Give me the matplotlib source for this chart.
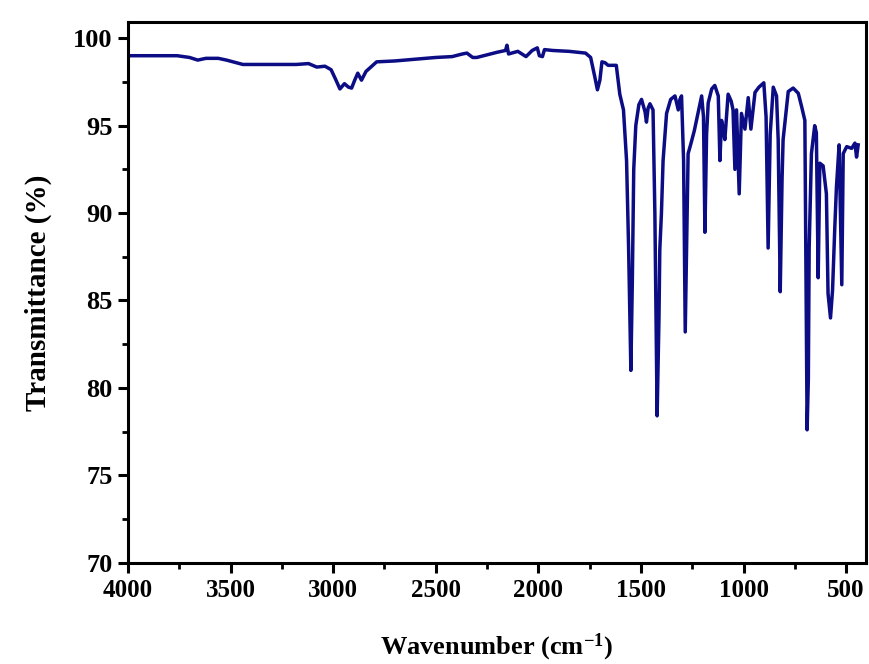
import numpy as np
import matplotlib
matplotlib.use("Agg")
import matplotlib.pyplot as plt
from matplotlib.ticker import MultipleLocator

# FTIR spectrum
wavenumber = [4000, 3900, 3760, 3700, 3660, 3620, 3560, 3520, 3440, 3300, 3180, 3120,
              3080, 3040, 3010, 2990, 2967, 2945, 2925, 2910, 2895, 2880, 2862, 2840,
              2788, 2700, 2600, 2500, 2420, 2370, 2348, 2320, 2300, 2250, 2200, 2160,
              2153, 2145, 2100, 2060, 2030, 2005, 1995, 1980, 1970, 1930, 1850, 1770,
              1745, 1725, 1712, 1700, 1690, 1675, 1660, 1620, 1603, 1585, 1570, 1560,
              1549, 1542, 1535, 1525, 1510, 1497, 1480, 1473, 1465, 1456, 1441, 1432,
              1421, 1412, 1408, 1400, 1392, 1375, 1355, 1334, 1318, 1310, 1302, 1292,
              1284, 1276, 1270, 1258, 1240, 1220, 1204, 1195, 1188, 1180, 1172, 1155, 1140,
              1123, 1115, 1107, 1099, 1091, 1075, 1060, 1051, 1042, 1034, 1021, 1010,
              993, 977, 964, 944, 925, 901, 890, 880, 870, 855, 839, 831,
              821, 812, 807, 782, 758, 733, 717, 701, 690, 684, 680, 669,
              653, 645, 636, 628, 612, 596, 588, 576, 566, 555, 547, 534,
              521, 514, 497, 473, 457, 449, 441]
transmittance = [99.0, 99.0, 99.0, 98.9, 98.75, 98.85, 98.85, 98.75, 98.5, 98.5, 98.5, 98.55,
                 98.35, 98.4, 98.2, 97.7, 97.1, 97.4, 97.2, 97.15, 97.6, 98.0, 97.6, 98.1,
                 98.65, 98.7, 98.8, 98.9, 98.95, 99.1, 99.15, 98.9, 98.9, 99.05, 99.2, 99.3,
                 99.6, 99.1, 99.25, 98.95, 99.3, 99.45, 99.0, 98.95, 99.35, 99.3, 99.25, 99.15,
                 98.9, 97.8, 97.05, 97.6, 98.65, 98.6, 98.45, 98.45, 96.8, 95.9, 93.0, 88.0,
                 81.0, 86.0, 92.5, 95.0, 96.2, 96.5, 95.8, 95.2, 96.0, 96.25, 95.9, 90.0,
                 78.4, 84.0, 87.9, 90.0, 93.0, 95.7, 96.5, 96.7, 95.9, 96.5, 96.7, 93.0,
                 83.2, 89.0, 93.4, 93.9, 94.7, 95.8, 96.7, 95.5, 88.9, 94.5, 96.3, 97.1, 97.3,
                 96.7, 93.0, 95.3, 94.8, 94.2, 96.8, 96.4, 95.9, 92.5, 95.9, 91.1, 95.7,
                 94.8, 96.6, 94.8, 96.9, 97.2, 97.45, 95.5, 88.0, 94.5, 97.2, 96.7, 94.2,
                 85.5, 92.0, 94.2, 96.95, 97.15, 96.85, 96.1, 95.3, 77.6, 80.5, 88.0, 93.4,
                 95.0, 94.6, 86.3, 92.85, 92.7, 91.1, 85.4, 84.0, 85.6, 89.2, 91.5, 93.9,
                 85.9, 93.4, 93.8, 93.7, 94.0, 93.2, 93.9]

x_ticks = [4000, 3500, 3000, 2500, 2000, 1500, 1000, 500]
y_ticks = [70, 75, 80, 85, 90, 95, 100]

plt.rcParams['font.family'] = ['Liberation Serif', 'DejaVu Serif']
plt.rcParams['font.weight'] = 'bold'
plt.rcParams['mathtext.fontset'] = 'custom'
plt.rcParams['mathtext.rm'] = 'Liberation Serif:bold'
plt.rcParams['mathtext.it'] = 'Liberation Serif:bold'
plt.rcParams['mathtext.bf'] = 'Liberation Serif:bold'

fig = plt.figure(figsize=(8.7, 6.64), dpi=100)
ax = fig.add_axes([0.1471, 0.1526, 0.8483, 0.8143])

ax.plot(wavenumber, transmittance, color='#0c0c84', lw=2.5, solid_joinstyle='round')

ax.set_xlim(4000, 403)
ax.set_ylim(70, 100.93)
ax.set_xticks(x_ticks)
ax.set_yticks(y_ticks)
ax.xaxis.set_minor_locator(MultipleLocator(250))
ax.yaxis.set_minor_locator(MultipleLocator(2.5))

for s in ax.spines.values():
    s.set_linewidth(2.2)
ax.tick_params(which='major', direction='out', length=7, width=2.2)
ax.tick_params(which='minor', direction='out', length=4, width=2)
ax.tick_params(axis='x', labelsize=18, pad=5)
ax.tick_params(axis='y', labelsize=19, pad=4)
for lab in ax.get_xticklabels() + ax.get_yticklabels():
    lab.set_fontweight('bold')

ax.set_xlabel('Wavenumber (cm$^{-1}$)', fontsize=19, fontweight='bold', labelpad=21)
ax.set_ylabel('Transmittance (%)', fontsize=21, fontweight='bold', labelpad=15)

fig.savefig('out.png', dpi=100)
